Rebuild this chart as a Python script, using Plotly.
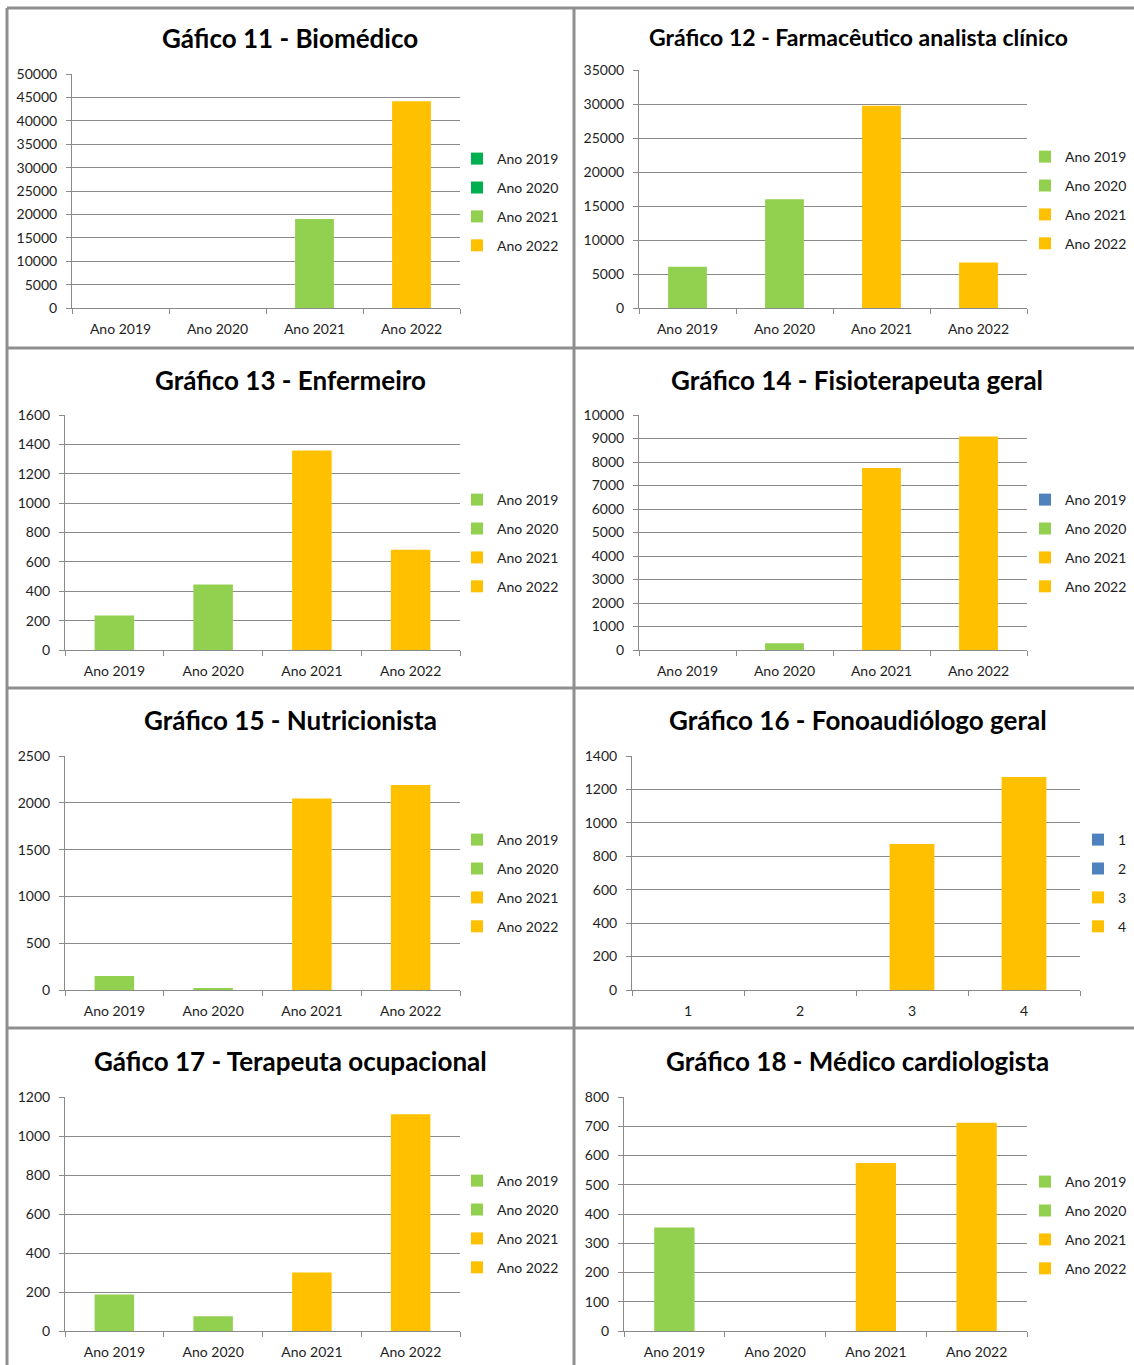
import plotly.graph_objects as go

W, H = 1134, 1365

# ---- data ----------------------------------------------------------------
anos = ["Ano 2019", "Ano 2020", "Ano 2021", "Ano 2022"]
numeros = ["1", "2", "3", "4"]

titulos = [
    "Gáfico 11 - Biomédico",
    "Gráfico 12 - Farmacêutico analista clínico",
    "Gráfico 13 - Enfermeiro",
    "Gráfico 14 - Fisioterapeuta geral",
    "Gráfico 15 - Nutricionista",
    "Gráfico 16 - Fonoaudiólogo geral",
    "Gáfico 17 - Terapeuta ocupacional",
    "Gráfico 18 - Médico cardiologista",
]

biomedico = [0, 0, 19000, 44200]
farmaceutico = [6050, 16000, 29750, 6700]
enfermeiro = [235, 446, 1358, 683]
fisioterapeuta = [0, 285, 7750, 9090]
nutricionista = [150, 18, 2045, 2190]
fonoaudiologo = [0, 0, 874, 1275]
terapeuta = [187, 75, 300, 1111]
cardiologista = [354, 0, 574, 712]

# y-axis scale of each chart: (maximum, step)
escalas = [(50000, 5000), (35000, 5000), (1600, 200), (10000, 1000),
           (2500, 500), (1400, 200), (1200, 200), (800, 100)]

# ---- styles ----------------------------------------------------------------
VERDE = "#92D050"
LARANJA = "#FFC000"
VERDE_ESC = "#00B050"
AZUL = "#4F81BD"
CINZA = "#8a8a8a"
BORDA = "#8f8f8f"
TEXTO = "#1e1e1e"
FONTE = "Lato"

cores = [
    [VERDE_ESC, VERDE_ESC, VERDE, LARANJA],
    [VERDE, VERDE, LARANJA, LARANJA],
    [VERDE, VERDE, LARANJA, LARANJA],
    [AZUL, VERDE, LARANJA, LARANJA],
    [VERDE, VERDE, LARANJA, LARANJA],
    [AZUL, AZUL, LARANJA, LARANJA],
    [VERDE, VERDE, LARANJA, LARANJA],
    [VERDE, VERDE, LARANJA, LARANJA],
]

series = [biomedico, farmaceutico, enfermeiro, fisioterapeuta,
          nutricionista, fonoaudiologo, terapeuta, cardiologista]
categorias = [anos, anos, anos, anos, anos, numeros, anos, anos]

# plot rectangles in pixels: (left, right, top, bottom)
areas = [
    (72, 460, 74, 308),
    (639, 1027, 70, 308),
    (65, 460, 415, 650),
    (639, 1027, 415, 650),
    (65, 460, 756, 990),
    (632, 1080, 756, 990),
    (65, 460, 1097, 1331),
    (624, 1027, 1097, 1331),
]
# title centre (x, y) and size in pixels
titulos_pos = [
    (290, 38, 26), (858, 37, 23), (290, 380, 26), (857, 380, 26),
    (290, 720, 26), (858, 720, 26), (290, 1061, 26), (857, 1061, 26),
]
# legend text start x and centre y in pixels
legendas_pos = [
    (497, 202), (1065, 200), (497, 543), (1065, 543),
    (497, 883), (1118, 883), (497, 1224), (1065, 1225),
]


def fx(px):
    return px / W


def fy(py):
    return 1 - py / H


fig = go.Figure()
layout = {}
anotacoes = []

for i in range(8):
    n = i + 1
    suf = "" if n == 1 else str(n)
    xa, ya, leg = "x" + suf, "y" + suf, "legend" + suf
    cats = categorias[i]
    for cat, val, cor in zip(cats, series[i], cores[i]):
        fig.add_trace(go.Bar(
            x=[cat], y=[val], name=cat,
            marker=dict(color=cor, line=dict(width=0)),
            width=0.4, xaxis=xa, yaxis=ya, legend=leg,
            legendgroup=f"g{n}-{cat}",
        ))

    l, r, t, b = areas[i]
    ymax, passo = escalas[i]
    layout["xaxis" + suf] = dict(
        domain=[fx(l), fx(r)], anchor=ya, type="category",
        categoryorder="array", categoryarray=cats, range=[-0.5, 3.5],
        showline=True, linecolor=CINZA, linewidth=1,
        ticks="outside", tickson="boundaries", ticklen=5, tickcolor=CINZA,
        showgrid=False, zeroline=False, fixedrange=True, automargin=False,
        ticklabelstandoff=8,
        tickfont=dict(family=FONTE, size=14, color=TEXTO),
    )
    layout["yaxis" + suf] = dict(
        domain=[fy(b), fy(t)], anchor=xa, range=[0, ymax],
        tick0=0, dtick=passo, tickformat="d",
        showline=True, linecolor=CINZA, linewidth=1,
        ticks="outside", ticklen=5, tickcolor=CINZA,
        showgrid=True, gridcolor=CINZA, gridwidth=1, zeroline=False,
        fixedrange=True, automargin=False, ticklabelstandoff=6,
        tickfont=dict(family=FONTE, size=14, color=TEXTO),
    )

    lx, ly = legendas_pos[i]
    layout[leg] = dict(
        x=fx(lx - 40), y=fy(ly), xanchor="left", yanchor="middle",
        xref="paper", yref="paper", bgcolor="rgba(0,0,0,0)",
        font=dict(family=FONTE, size=14, color=TEXTO),
        tracegroupgap=7.7, itemclick=False, itemdoubleclick=False,
    )

    tx, ty, ts = titulos_pos[i]
    anotacoes.append(dict(
        text=titulos[i], x=fx(tx), y=fy(ty), xref="paper", yref="paper",
        xanchor="center", yanchor="middle", showarrow=False,
        font=dict(family=FONTE, size=ts, color="#000000", weight=700),
    ))

# panel frames
molduras = []
for yl in (8, 348, 688, 1028):
    molduras.append(dict(type="line", xref="paper", yref="paper",
                         x0=fx(7), x1=1, y0=fy(yl), y1=fy(yl),
                         line=dict(color=BORDA, width=3)))
for xl in (7, 574):
    molduras.append(dict(type="line", xref="paper", yref="paper",
                         x0=fx(xl), x1=fx(xl), y0=fy(8), y1=0,
                         line=dict(color=BORDA, width=3)))

fig.update_layout(
    width=W, height=H, autosize=False,
    margin=dict(l=0, r=0, t=0, b=0, pad=0, autoexpand=False),
    paper_bgcolor="white", plot_bgcolor="white",
    barmode="overlay", showlegend=True,
    annotations=anotacoes, shapes=molduras,
    **layout,
)

# the page should show the figure flush with the window edges
fig.write_html(
    "out.html",
    config={"displayModeBar": False},
    post_script="document.body.style.margin='0';document.body.style.overflow='hidden';",
)
